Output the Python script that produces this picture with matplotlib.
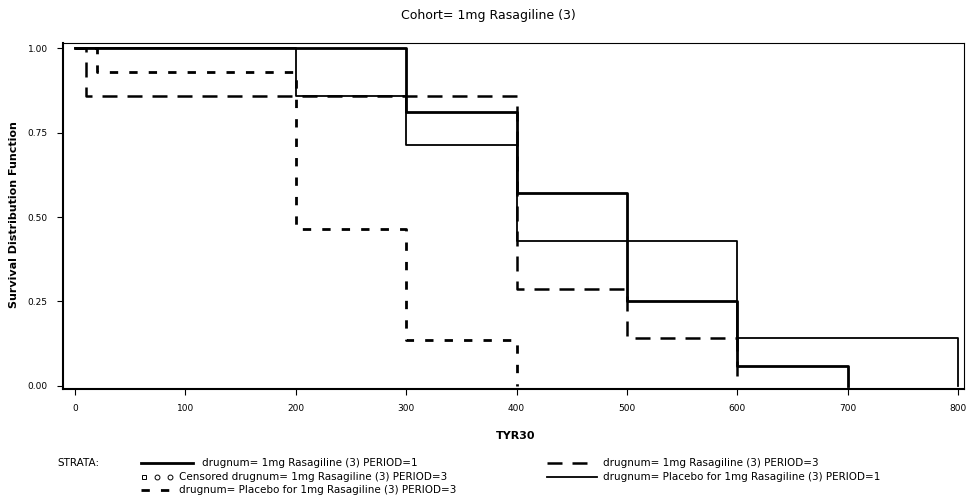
import matplotlib
matplotlib.use("Agg")
import matplotlib.pyplot as plt
from matplotlib.lines import Line2D

plt.rcParams['font.family'] = ['DejaVu Sans']

# step curves (time, survival)
rasa_p1_t = [0, 300, 400, 500, 600, 700]
rasa_p1_s = [1.0, 0.81, 0.571, 0.25, 0.06, 0.0]

plac_p1_t = [0, 200, 300, 400, 600, 800]
plac_p1_s = [1.0, 0.857, 0.714, 0.429, 0.143, 0.0]

rasa_p3_t = [0, 10, 400, 500, 600]
rasa_p3_s = [1.0, 0.857, 0.286, 0.143, 0.0]

plac_p3_t = [0, 20, 200, 300, 400]
plac_p3_s = [1.0, 0.93, 0.464, 0.136, 0.0]

xticks = [0, 100, 200, 300, 400, 500, 600, 700, 800]
yticks = [0.0, 0.25, 0.5, 0.75, 1.0]

W, H = 966, 500
fig = plt.figure(figsize=(W / 100, H / 100), dpi=100)

def fx(px):
    return px / W

def fy(py):
    return 1 - py / H

ax = fig.add_axes([fx(63), fy(389), fx(964 - 63), (389 - 43) / H])

long_dash = (0, (6, 4))
short_dash = (0, (3, 4))

ax.step(plac_p1_t, plac_p1_s, where='post', color='black', lw=1.3)
ax.step(rasa_p3_t, rasa_p3_s, where='post', color='black', lw=1.8, linestyle=long_dash)
ax.step(plac_p3_t, plac_p3_s, where='post', color='black', lw=2.0, linestyle=short_dash)
ax.step(rasa_p1_t, rasa_p1_s, where='post', color='black', lw=2.0)

ax.set_xlim(-10.9, 805.4)
ax.set_ylim(-0.009, 1.015)
ax.set_xticks(xticks)
ax.set_xticklabels([str(v) for v in xticks])
ax.set_yticks(yticks)
ax.set_yticklabels([f"{v:.2f}" for v in yticks])
ax.tick_params(direction='out', length=4, width=0.8, labelsize=6.5, colors='black', pad=7)
for sp in ax.spines.values():
    sp.set_linewidth(0.8)
    sp.set_color('black')
ax.spines['left'].set_linewidth(1.5)
ax.spines['bottom'].set_linewidth(1.5)

fig.text(fx(488), fy(15), "Cohort= 1mg Rasagiline (3)", ha='center', va='center', fontsize=9)
fig.text(fx(516), fy(436), "TYR30", ha='center', va='center', fontsize=8, fontweight='bold')
fig.text(fx(14), fy(215), "Survival Distribution Function", ha='center', va='center',
         rotation=90, fontsize=8, fontweight='bold')

# legend drawn by hand like the SAS strata box
fs = 7.5
fig.text(fx(57), fy(463), "STRATA:", ha='left', va='center', fontsize=fs)

rows = [
    (141, 193, 463, 202, dict(color='black', lw=2.0), "drugnum= 1mg Rasagiline (3) PERIOD=1"),
    (141, 176, 490, 179, dict(color='black', lw=2.0, linestyle=short_dash),
     "drugnum= Placebo for 1mg Rasagiline (3) PERIOD=3"),
    (547, 597, 463, 603, dict(color='black', lw=1.8, linestyle=long_dash),
     "drugnum= 1mg Rasagiline (3) PERIOD=3"),
    (547, 597, 477, 603, dict(color='black', lw=1.3),
     "drugnum= Placebo for 1mg Rasagiline (3) PERIOD=1"),
]
for x0, x1, y, xt, style, label in rows:
    fig.add_artist(Line2D([fx(x0), fx(x1)], [fy(y), fy(y)], transform=fig.transFigure, **style))
    fig.text(fx(xt), fy(y), label, ha='left', va='center', fontsize=fs)

for mx, mk in [(144, 's'), (157, 'o'), (170, 'o')]:
    fig.add_artist(Line2D([fx(mx)], [fy(477)], transform=fig.transFigure,
                          linestyle='none', marker=mk, markersize=3.5, markerfacecolor='white',
                          markeredgecolor='black', markeredgewidth=0.7))
fig.text(fx(179), fy(477), "Censored drugnum= 1mg Rasagiline (3) PERIOD=3",
         ha='left', va='center', fontsize=fs)

fig.savefig("out.png", dpi=100, facecolor='white')
